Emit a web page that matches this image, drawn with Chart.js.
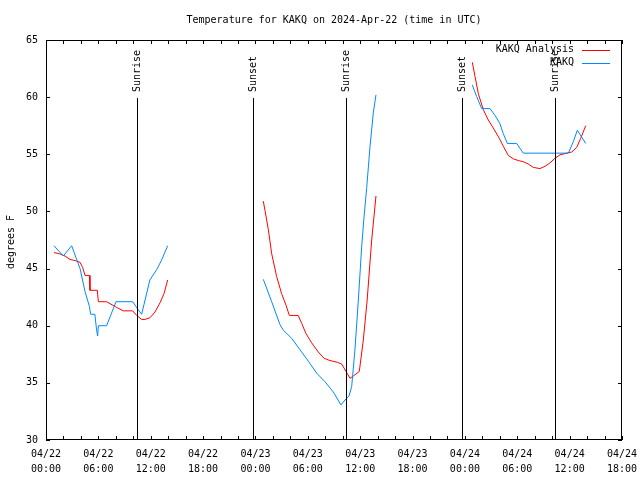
<!DOCTYPE html>
<html>
<head>
<meta charset="utf-8">
<script src="https://cdn.jsdelivr.net/npm/chart.js@4"></script>
<style>
html,body{margin:0;padding:0;background:#fff;}
canvas{display:block;}
</style>
</head>
<body>
<canvas id="c" width="640" height="480"></canvas>
<script>
// Hours since 2024-04-22 00:00 UTC
const anaHours = [0.92,1.53,2.18,2.75,3.32,3.9,4.2,4.47,4.97,5.04,5.88,6.0,6.95,8.1,8.86,9.93,10.39,10.96,11.34,11.92,12.49,13.06,13.52,13.94,null,
  24.9,25.09,25.48,25.86,26.43,27.0,27.5,27.88,28.9,29.3,29.8,30.44,31.2,31.86,32.54,33.38,33.88,34.38,34.83,35.22,35.9,36.36,36.8,37.32,37.81,null,
  48.85,49.16,49.54,50.11,50.68,51.25,51.94,52.4,52.97,53.55,54.12,54.69,55.26,55.84,56.6,57.18,57.75,58.32,58.9,59.66,60.24,60.81,61.27,61.84];
const anaTemps = [46.4,46.3,46.1,45.8,45.7,45.55,45.1,44.4,44.4,43.1,43.1,42.1,42.1,41.6,41.3,41.3,40.9,40.55,40.55,40.7,41.2,42.0,42.8,44.0,null,
  50.9,50.1,48.4,46.3,44.3,42.8,41.8,40.9,40.9,40.2,39.3,38.5,37.7,37.15,36.95,36.8,36.65,36.0,35.4,35.6,36.0,38.75,42.25,47.5,51.35,null,
  63.05,61.8,60.3,58.9,58.0,57.3,56.4,55.7,54.9,54.6,54.45,54.35,54.15,53.85,53.75,53.95,54.25,54.65,54.95,55.1,55.2,55.6,56.4,57.5];
const obsHours = [0.92,1.99,2.94,3.32,3.9,4.47,4.97,5.12,5.6,5.8,5.92,6.0,6.95,8.02,9.93,10.47,10.96,11.9,12.68,13.25,13.94,null,
  24.9,25.86,26.81,27.2,28.15,29.1,30.06,31.01,31.97,32.92,33.8,34.26,34.72,35.03,35.4,35.79,36.17,36.44,36.75,37.13,37.5,37.81,null,
  48.85,49.35,49.92,50.88,51.45,52.0,52.4,52.86,53.93,54.69,59.85,60.42,60.88,61.84];
const obsTemps = [47.0,46.1,47.0,46.2,45.0,43.0,41.7,41.0,41.0,39.6,39.1,40.0,40.0,42.1,42.1,41.5,41.0,44.0,44.9,45.75,47.0,null,
  44.06,42.1,40.1,39.6,38.9,37.9,36.9,35.85,35.1,34.2,33.07,33.5,33.85,34.7,37.9,42.25,46.9,49.5,52.1,55.7,58.6,60.2,null,
  61.06,60.05,59.0,59.0,58.4,57.7,56.8,55.95,55.95,55.1,55.1,56.1,57.1,55.95];
const eventHours = [10.42,23.72,34.38,47.67,58.38];
const eventLabels = ['Sunrise','Sunset','Sunrise','Sunset','Sunrise'];
const yTicks = [30,35,40,45,50,55,60,65];
const dayLabels = ['04/22','04/22','04/22','04/22','04/23','04/23','04/23','04/23','04/24','04/24','04/24','04/24'];
const timeLabels = ['00:00','06:00','12:00','18:00','00:00','06:00','12:00','18:00','00:00','06:00','12:00','18:00'];
const seriesNames = ['KAKQ Analysis','KAKQ'];
const titleText = 'Temperature for KAKQ on 2024-Apr-22 (time in UTC)';
const yTitle = 'degrees F';

const RED = '#ff0000', BLUE = '#0088ff';
const FONT = '10px "DejaVu Sans Mono", monospace';

function pts(hs, ts){ return hs.map((h,i)=>({x: h===null ? (hs[i-1]+0.01) : h, y: ts[i]})); }

const overlay = {
  id:'overlay',
  afterDraw(chart){
    const ctx = chart.ctx, a = chart.chartArea, xs = chart.scales.x, ys = chart.scales.y;
    ctx.save();
    ctx.strokeStyle = '#000'; ctx.lineWidth = 1;
    ctx.strokeRect(Math.round(a.left)+0.5, Math.round(a.top)+0.5, Math.round(a.right-a.left)-1, Math.round(a.bottom-a.top)-1);
    ctx.beginPath();
    for (let h=0; h<=66; h+=2){
      const px = Math.round(xs.getPixelForValue(h))+0.5;
      ctx.moveTo(px, a.bottom); ctx.lineTo(px, a.bottom-4);
      ctx.moveTo(px, a.top); ctx.lineTo(px, a.top+4);
    }
    yTicks.forEach(v=>{
      const py = Math.round(ys.getPixelForValue(v))+0.5;
      ctx.moveTo(a.left, py); ctx.lineTo(a.left+4, py);
      ctx.moveTo(a.right, py); ctx.lineTo(a.right-4, py);
    });
    ctx.stroke();
    // sunrise / sunset
    ctx.font = FONT; ctx.fillStyle = '#000';
    eventHours.forEach((h,i)=>{
      const px = Math.round(xs.getPixelForValue(h))+0.5;
      ctx.beginPath(); ctx.moveTo(px, a.top+58); ctx.lineTo(px, a.bottom); ctx.stroke();
      ctx.save(); ctx.translate(px, a.top+52); ctx.rotate(-Math.PI/2);
      ctx.textAlign='left'; ctx.textBaseline='middle';
      ctx.fillText(eventLabels[i], 0, 0); ctx.restore();
    });
    // legend
    const cols = [RED, BLUE], rows = [49.5, 62.5];
    seriesNames.forEach((n,i)=>{
      ctx.textAlign='right'; ctx.textBaseline='middle'; ctx.fillStyle='#000';
      ctx.fillText(n, 574, rows[i]);
      ctx.strokeStyle = cols[i]; ctx.beginPath();
      ctx.moveTo(582, Math.round(rows[i])+0.5); ctx.lineTo(610, Math.round(rows[i])+0.5); ctx.stroke();
    });
    // title
    ctx.fillStyle='#000'; ctx.textAlign='center'; ctx.textBaseline='middle';
    ctx.fillText(titleText, (a.left+a.right)/2, 20);
    ctx.save(); ctx.translate(11, 242); ctx.rotate(-Math.PI/2);
    ctx.fillText(yTitle, 0, 0); ctx.restore();
    ctx.restore();
  }
};

new Chart(document.getElementById('c'), {
  type:'line',
  data:{ datasets:[
    {label: seriesNames[1], data: pts(obsHours, obsTemps), borderColor: BLUE, borderWidth:1, pointRadius:0, tension:0, spanGaps:false, order:0},
    {label: seriesNames[0], data: pts(anaHours, anaTemps), borderColor: RED, borderWidth:1, pointRadius:0, tension:0, spanGaps:false, order:1}
  ]},
  options:{
    responsive:false, animation:false,
    layout:{padding:{top:40, right:18, left:0, bottom:0}},
    plugins:{legend:{display:false}, title:{display:false}, tooltip:{enabled:false}},
    scales:{
      x:{type:'linear', min:0, max:66,
         afterFit(s){ s.height = 40; s.paddingLeft = 0; s.paddingRight = 0; },
         afterBuildTicks(s){ const t=[]; for(let h=0;h<=66;h+=6) t.push({value:h}); s.ticks = t; },
         grid:{display:false, drawTicks:false}, border:{display:false},
         ticks:{autoSkip:false, maxRotation:0, minRotation:0, padding:7, color:'#000',
           font:{family:'"DejaVu Sans Mono", monospace', size:10, lineHeight:1.5},
           callback(v){ const i = Math.round(v/6); return [dayLabels[i], timeLabels[i]]; }}},
      y:{min:30, max:65,
         afterFit(s){ s.width = 46; s.paddingTop = 0; s.paddingBottom = 0; },
         afterBuildTicks(s){ s.ticks = yTicks.map(v=>({value:v})); },
         grid:{display:false, drawTicks:false}, border:{display:false},
         ticks:{padding:8, color:'#000', font:{family:'"DejaVu Sans Mono", monospace', size:10}}}
    }
  },
  plugins:[overlay]
});
</script>
</body>
</html>
